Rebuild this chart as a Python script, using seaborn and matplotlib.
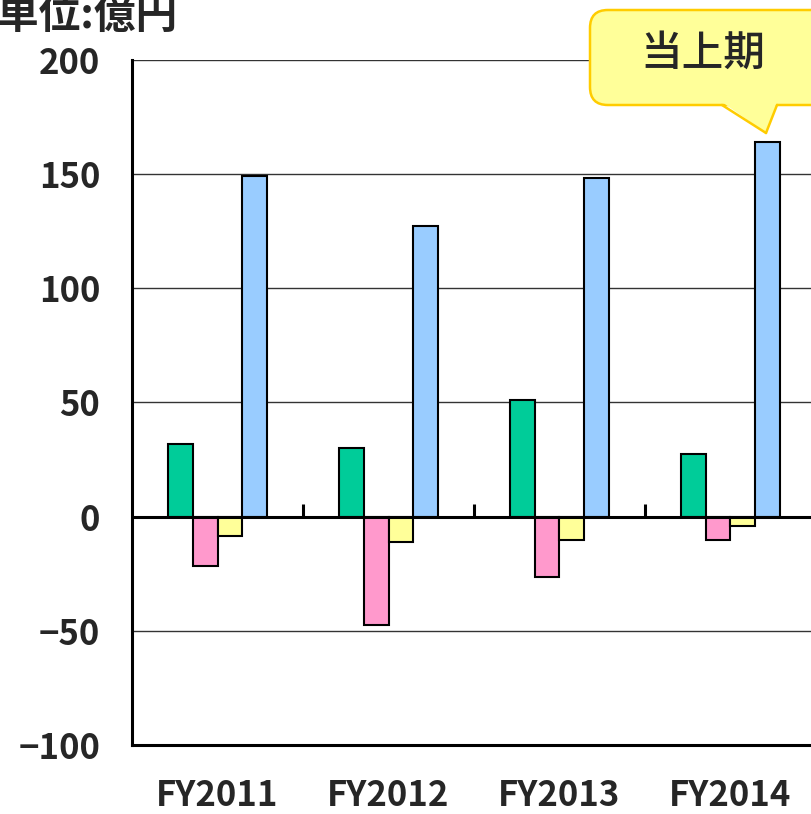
import pandas as pd
import matplotlib.pyplot as plt
import seaborn as sns
from matplotlib.patches import FancyBboxPatch, Polygon
from matplotlib.lines import Line2D

# ---- データ ----
years = ['FY2011', 'FY2012', 'FY2013', 'FY2014']
series = ['系列1', '系列2', '系列3', '系列4']
green_vals = [32, 30, 51, 27.5]
pink_vals = [-21.5, -47.5, -26.5, -10]
yellow_vals = [-8.5, -11, -10, -4]
blue_vals = [149, 127.5, 148.5, 164]
colors = ['#00CC99', '#FF99CC', '#FFFF99', '#99CCFF']
yticks = [-100, -50, 0, 50, 100, 150, 200]

sns.set_style('white')
plt.rcParams['font.family'] = ['Noto Sans CJK JP', 'DejaVu Sans']
plt.rcParams['axes.unicode_minus'] = True

W, H = 811, 814


def px(x, y):
    # ピクセル座標 -> figure座標
    return (x / W, 1 - y / H)


def main():
    rows = []
    for vals, s in zip([green_vals, pink_vals, yellow_vals, blue_vals], series):
        for y, v in zip(years, vals):
            rows.append({'year': y, 'series': s, 'value': v})
    df = pd.DataFrame(rows)

    fig = plt.figure(figsize=(W / 100, H / 100), dpi=100)
    ax = fig.add_axes([132 / W, (H - 745) / H, 684 / W, 685 / H])

    for v in [-50, 50, 100, 150, 200]:
        ax.axhline(v, color='#333333', lw=1.0, zorder=0)

    sns.barplot(data=df, x='year', y='value', hue='series', hue_order=series,
                order=years, palette=colors, width=0.58, saturation=1,
                edgecolor='black', linewidth=1.5, legend=False, ax=ax, zorder=2)

    ax.axhline(0, color='black', lw=2.2, zorder=3)
    ax.vlines([0.5, 1.5, 2.5], 0, 5.5, color='black', lw=2.2, zorder=3)

    ax.set_xlim(-0.5, 3.5)
    ax.set_ylim(-100, 200)
    ax.set_yticks(yticks)
    ax.set_xlabel('')
    ax.set_ylabel('')
    for side in ['top', 'right']:
        ax.spines[side].set_visible(False)
    for side in ['left', 'bottom']:
        ax.spines[side].set_color('black')
        ax.spines[side].set_linewidth(2.2)

    ax.tick_params(axis='y', direction='in', length=7, width=2, color='black',
                   pad=23, labelsize=25)
    ax.tick_params(axis='x', length=0, pad=24, labelsize=25)
    for lab in ax.get_xticklabels() + ax.get_yticklabels():
        lab.set_fontweight('bold')

    # 単位
    fig.text(-0.004, 1 - 28 / H, '単位:億円', fontsize=30, fontweight='bold',
             ha='left', va='baseline')

    # 吹き出し
    x0, y0 = px(590, 105)
    x1, y1 = px(840, 10)
    box = FancyBboxPatch((x0, y0), x1 - x0, y1 - y0,
                         boxstyle='round,pad=0,rounding_size=0.022',
                         transform=fig.transFigure, fc='#FFFF99', ec='#FFCC00',
                         lw=1.8, zorder=10)
    fig.add_artist(box)
    tail = [px(722, 102), px(777, 102), px(766, 133)]
    fig.add_artist(Polygon(tail, closed=True, transform=fig.transFigure,
                           fc='#FFFF99', ec='none', zorder=11))
    for a, b in [((722, 105), (766, 133)), ((777, 105), (766, 133))]:
        pa, pb = px(*a), px(*b)
        fig.add_artist(Line2D([pa[0], pb[0]], [pa[1], pb[1]],
                              transform=fig.transFigure, color='#FFCC00',
                              lw=1.8, zorder=12))
    fig.text(*px(703, 53), '当上期', fontsize=30, ha='center', va='center',
             fontweight='medium', zorder=13)

    fig.savefig('out.png', dpi=100)
    plt.close(fig)


if __name__ == '__main__':
    main()
